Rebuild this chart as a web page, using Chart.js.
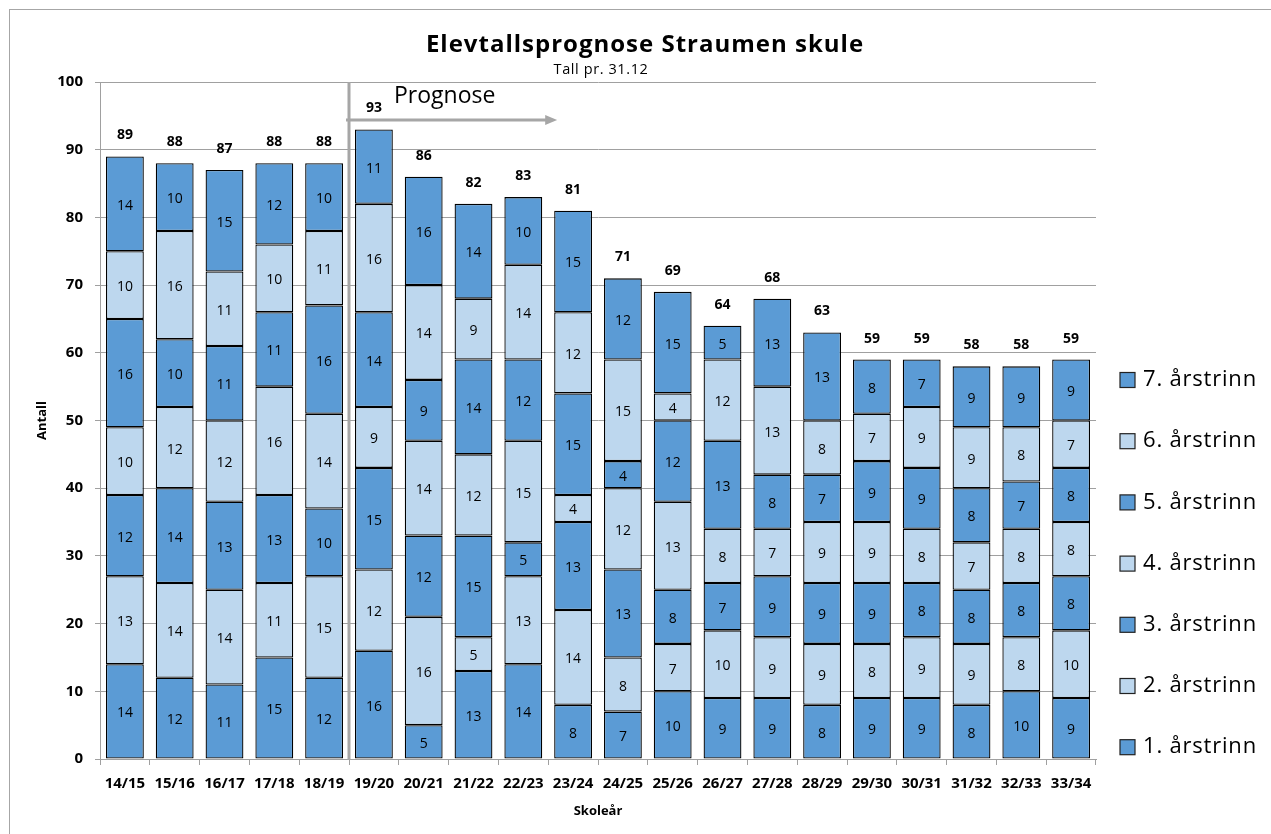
<!DOCTYPE html>
<html><head><meta charset="utf-8">
<script src="https://cdn.jsdelivr.net/npm/chart.js@4"></script>
<style>html,body{margin:0;padding:0;background:#fff}canvas{display:block}</style>
</head><body>
<canvas id="c" width="1271" height="834"></canvas>
<script>
const categories = ["14/15","15/16","16/17","17/18","18/19","19/20","20/21","21/22","22/23","23/24","24/25","25/26","26/27","27/28","28/29","29/30","30/31","31/32","32/33","33/34"];
const seriesNames = ["1. årstrinn","2. årstrinn","3. årstrinn","4. årstrinn","5. årstrinn","6. årstrinn","7. årstrinn"];
const trinn1 = [14,12,11,15,12,16,5,13,14,8,7,10,9,9,8,9,9,8,10,9];
const trinn2 = [13,14,14,11,15,12,16,5,13,14,8,7,10,9,9,8,9,9,8,10];
const trinn3 = [12,14,13,13,10,15,12,15,5,13,13,8,7,9,9,9,8,8,8,8];
const trinn4 = [10,12,12,16,14,9,14,12,15,4,12,13,8,7,9,9,8,7,8,8];
const trinn5 = [16,10,11,11,16,14,9,14,12,15,4,12,13,8,7,9,9,8,7,8];
const trinn6 = [10,16,11,10,11,16,14,9,14,12,15,4,12,13,8,7,9,9,8,7];
const trinn7 = [14,10,15,12,10,11,16,14,10,15,12,15,5,13,13,8,7,9,9,9];
const yTicks = [0,10,20,30,40,50,60,70,80,90,100];
const titleText = "Elevtallsprognose Straumen skule";
const subtitleText = "Tall pr. 31.12";
const xTitle = "Skoleår";
const yTitle = "Antall";
const prognoseText = "Prognose";
const prognoseStartIndex = 5;

const DARK = '#5B9BD5', LIGHT = '#BDD7EE';
const FONT = '"Open Sans", "Noto Sans", sans-serif';
const allSeries = [trinn1,trinn2,trinn3,trinn4,trinn5,trinn6,trinn7];
const datasets = allSeries.map((d,i)=>({
  label: seriesNames[i], data: d,
  backgroundColor: i%2===0 ? DARK : LIGHT,
  borderColor:'#000', borderWidth:1.3, borderSkipped:false,
  categoryPercentage:1, barPercentage:0.76
}));

const framePlugin = {
  id:'frame',
  beforeDraw(chart){
    const ctx=chart.ctx; ctx.save();
    ctx.fillStyle='#fff'; ctx.fillRect(0,0,chart.width,chart.height);
    ctx.strokeStyle='#A6A6A6'; ctx.lineWidth=1;
    ctx.strokeRect(9.5,9.5,1300,900);
    ctx.fillStyle='#000'; ctx.textAlign='center'; ctx.textBaseline='middle';
    ctx.letterSpacing='1px';
    ctx.font='bold 24px '+FONT; ctx.fillText(titleText,645,45);
    ctx.letterSpacing='0.6px';
    ctx.font='14.5px '+FONT; ctx.fillText(subtitleText,601,70);
    ctx.letterSpacing='0px';
    ctx.restore();
  }
};

const labelPlugin = {
  id:'labels',
  afterDatasetsDraw(chart){
    const ctx=chart.ctx; ctx.save();
    ctx.fillStyle='#000'; ctx.textAlign='center'; ctx.textBaseline='middle';
    ctx.font='14px '+FONT;
    chart.data.datasets.forEach((ds,i)=>{
      chart.getDatasetMeta(i).data.forEach((bar,j)=>{
        ctx.fillText(String(ds.data[j]), bar.x, (bar.y+bar.base)/2+2);
      });
    });
    ctx.font='bold 14px '+FONT;
    const top = chart.getDatasetMeta(chart.data.datasets.length-1).data;
    categories.forEach((c,j)=>{
      const tot = allSeries.reduce((s,a)=>s+a[j],0);
      ctx.fillText(String(tot), top[j].x, top[j].y-21);
    });
    ctx.restore();
  }
};

const prognosePlugin = {
  id:'prognose',
  afterDatasetsDraw(chart){
    const ctx=chart.ctx, xs=chart.scales.x, ys=chart.scales.y, ca=chart.chartArea;
    const x=(xs.getPixelForValue(prognoseStartIndex-1)+xs.getPixelForValue(prognoseStartIndex))/2;
    const y=ys.getPixelForValue(94.4);
    const xEnd=xs.getPixelForValue(8.68);
    ctx.save();
    ctx.strokeStyle='#A6A6A6'; ctx.fillStyle='#A6A6A6'; ctx.lineWidth=3;
    ctx.beginPath(); ctx.moveTo(x,ca.top); ctx.lineTo(x,ca.bottom+1); ctx.stroke();
    ctx.beginPath(); ctx.moveTo(x-3,y); ctx.lineTo(xEnd-10,y); ctx.stroke();
    ctx.beginPath(); ctx.moveTo(xEnd,y); ctx.lineTo(xEnd-12,y-5); ctx.lineTo(xEnd-12,y+5); ctx.closePath(); ctx.fill();
    ctx.fillStyle='#000'; ctx.font='23px '+FONT; ctx.textAlign='left'; ctx.textBaseline='alphabetic';
    ctx.fillText(prognoseText, x+45, y-17);
    ctx.restore();
  }
};

const legendPlugin = {
  id:'customLegend',
  afterDraw(chart){
    const ctx=chart.ctx; ctx.save();
    ctx.font='22px '+FONT; ctx.textBaseline='middle'; ctx.textAlign='left';
    ctx.letterSpacing='0.8px';
    const n=chart.data.datasets.length;
    for(let k=0;k<n;k++){
      const ds=chart.data.datasets[n-1-k];
      const cy=380+k*61.2;
      ctx.fillStyle=ds.backgroundColor; ctx.fillRect(1120,cy-7.5,15,15);
      ctx.strokeStyle='#222'; ctx.lineWidth=1.2; ctx.strokeRect(1120,cy-7.5,15,15);
      ctx.fillStyle='#000'; ctx.fillText(ds.label,1143,cy);
    }
    ctx.letterSpacing='0px';
    ctx.restore();
  }
};

new Chart(document.getElementById('c'),{
  type:'bar',
  data:{labels:categories, datasets},
  options:{
    responsive:false, animation:false,
    layout:{padding:{left:16,right:175,top:82,bottom:10}},
    scales:{
      x:{stacked:true,
        grid:{drawOnChartArea:false, drawTicks:true, tickLength:6, color:'#A0A0A0', offset:true},
        border:{color:'#A0A0A0', width:1},
        ticks:{font:{family:FONT,size:15,weight:'bold'}, color:'#000', padding:10, maxRotation:0, autoSkip:false},
        title:{display:true, text:xTitle, font:{family:FONT,size:13,weight:'bold'}, color:'#000', padding:{top:0,bottom:5}},
        afterFit(s){ s.height=65; }
      },
      y:{stacked:true, min:0, max:100,
        afterBuildTicks(s){ s.ticks = yTicks.map(v=>({value:v})); },
        grid:{color:'#A0A0A0', tickLength:5},
        border:{color:'#A0A0A0', width:1},
        ticks:{font:{family:FONT,size:15,weight:'bold'}, color:'#000', padding:12},
        title:{display:true, text:yTitle, font:{family:FONT,size:13,weight:'bold'}, color:'#000', padding:{top:18,bottom:0}},
        afterFit(s){ s.width=84; }
      }
    },
    plugins:{legend:{display:false}, tooltip:{enabled:false}, title:{display:false}}
  },
  plugins:[framePlugin,labelPlugin,prognosePlugin,legendPlugin]
});
</script>
</body></html>
